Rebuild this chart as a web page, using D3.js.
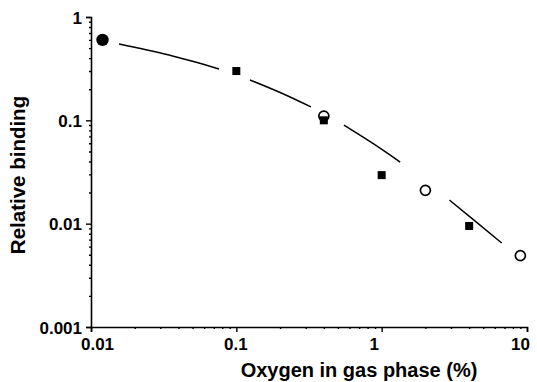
<!DOCTYPE html>
<html>
<head>
<meta charset="utf-8">
<script src="https://cdn.jsdelivr.net/npm/d3@7"></script>
<style>
  body { margin: 0; background: #fff; }
  svg text { font-family: "Liberation Sans", Arial, sans-serif; font-weight: bold; fill: #000; }
</style>
</head>
<body>
<div id="chart"></div>
<script>
// Data
var xTicks = [0.01, 0.1, 1, 10];
var yTicks = [0.001, 0.01, 0.1, 1];
var xTickLabels = ["0.01", "0.1", "1", "10"];
var yTickLabels = ["0.001", "0.01", "0.1", "1"];

var filledCircleX = [0.012];
var filledCircleY = [0.6];

var squareX = [0.1, 0.4, 1, 4];
var squareY = [0.30, 0.10, 0.0295, 0.0095];

var openCircleX = [0.4, 2, 9];
var openCircleY = [0.11, 0.021, 0.0049];

// fitted curve, drawn in pieces with gaps around the symbols
var curveSegments = [
  [[0.0156, 0.548], [0.0344, 0.428], [0.076, 0.314]],
  [[0.124, 0.246], [0.202, 0.185], [0.326, 0.135]],
  [[0.55, 0.090], [0.86, 0.0605], [1.34, 0.0395]],
  [[2.93, 0.0169], [4.4, 0.0106], [6.7, 0.0065]]
];

var width = 537, height = 382;
var plotLeft = 91, plotRight = 527, plotTop = 17, plotBottom = 327;
// the scanned figure's x labels sit slightly off their ticks
var xLabelShift = [6, -1, -8, -7];

function minorTicks(lo, hi){
  var out = [];
  for (var d = lo; d < hi; d *= 10)
    for (var k = 2; k <= 9; k++) out.push(d * k);
  return out;
}

var svg = d3.select("#chart").append("svg")
  .attr("width", width).attr("height", height);

var x = d3.scaleLog().domain([0.01, 10]).range([plotLeft, plotRight]);
var y = d3.scaleLog().domain([0.001, 1]).range([plotBottom, plotTop]);

// x axis
var xAxis = svg.append("g").attr("transform", "translate(0," + plotBottom + ")")
  .call(d3.axisBottom(x).tickValues(xTicks).tickSize(5)
    .tickFormat(function(d, i){ return xTickLabels[i]; }));
svg.append("g").attr("transform", "translate(0," + plotBottom + ")")
  .call(d3.axisBottom(x).tickValues(minorTicks(0.01, 10)).tickSize(2).tickFormat(""))
  .select(".domain").remove();

// y axis
var yAxis = svg.append("g").attr("transform", "translate(" + plotLeft + ",0)")
  .call(d3.axisLeft(y).tickValues(yTicks).tickSize(5)
    .tickFormat(function(d, i){ return yTickLabels[i]; }));
svg.append("g").attr("transform", "translate(" + plotLeft + ",0)")
  .call(d3.axisLeft(y).tickValues(minorTicks(0.001, 1)).tickSize(2).tickFormat(""))
  .select(".domain").remove();

svg.selectAll(".domain").attr("stroke", "#000").attr("stroke-width", 1.6);
svg.selectAll(".tick line").attr("stroke", "#000").attr("stroke-width", 1.4);

xAxis.selectAll(".tick text")
  .attr("font-size", 17).attr("dy", null).attr("y", 23)
  .attr("x", function(d, i){ return xLabelShift[i]; });
yAxis.selectAll(".tick text")
  .attr("font-size", 17).attr("x", -9).attr("dy", "0.36em");
svg.selectAll(".tick text").attr("font-family", null);

// axis titles
svg.append("text")
  .attr("x", 359).attr("y", 377)
  .attr("text-anchor", "middle").attr("font-size", 20)
  .text("Oxygen in gas phase (%)");
svg.append("text")
  .attr("transform", "translate(25," + ((plotTop + plotBottom) / 2 + 3) + ") rotate(-90)")
  .attr("text-anchor", "middle").attr("font-size", 20.5)
  .text("Relative binding");

// curve
var line = d3.line()
  .x(function(d){ return x(d[0]); })
  .y(function(d){ return y(d[1]); })
  .curve(d3.curveMonotoneX);
svg.selectAll("path.fit")
  .data(curveSegments)
  .enter().append("path")
  .attr("class", "fit")
  .attr("d", line)
  .attr("fill", "none").attr("stroke", "#000").attr("stroke-width", 1.5);

// symbols
var sq = 8;
svg.selectAll("rect.sq")
  .data(d3.range(squareX.length))
  .enter().append("rect")
  .attr("class", "sq")
  .attr("x", function(i){ return x(squareX[i]) - sq / 2; })
  .attr("y", function(i){ return y(squareY[i]) - sq / 2; })
  .attr("width", sq).attr("height", sq)
  .attr("fill", "#000");

svg.selectAll("circle.open")
  .data(d3.range(openCircleX.length))
  .enter().append("circle")
  .attr("class", "open")
  .attr("cx", function(i){ return x(openCircleX[i]); })
  .attr("cy", function(i){ return y(openCircleY[i]); })
  .attr("r", 5)
  .attr("fill", "none").attr("stroke", "#000").attr("stroke-width", 1.7);

svg.selectAll("circle.filled")
  .data(d3.range(filledCircleX.length))
  .enter().append("circle")
  .attr("class", "filled")
  .attr("cx", function(i){ return x(filledCircleX[i]); })
  .attr("cy", function(i){ return y(filledCircleY[i]); })
  .attr("r", 6.2)
  .attr("fill", "#000");
</script>
</body>
</html>
